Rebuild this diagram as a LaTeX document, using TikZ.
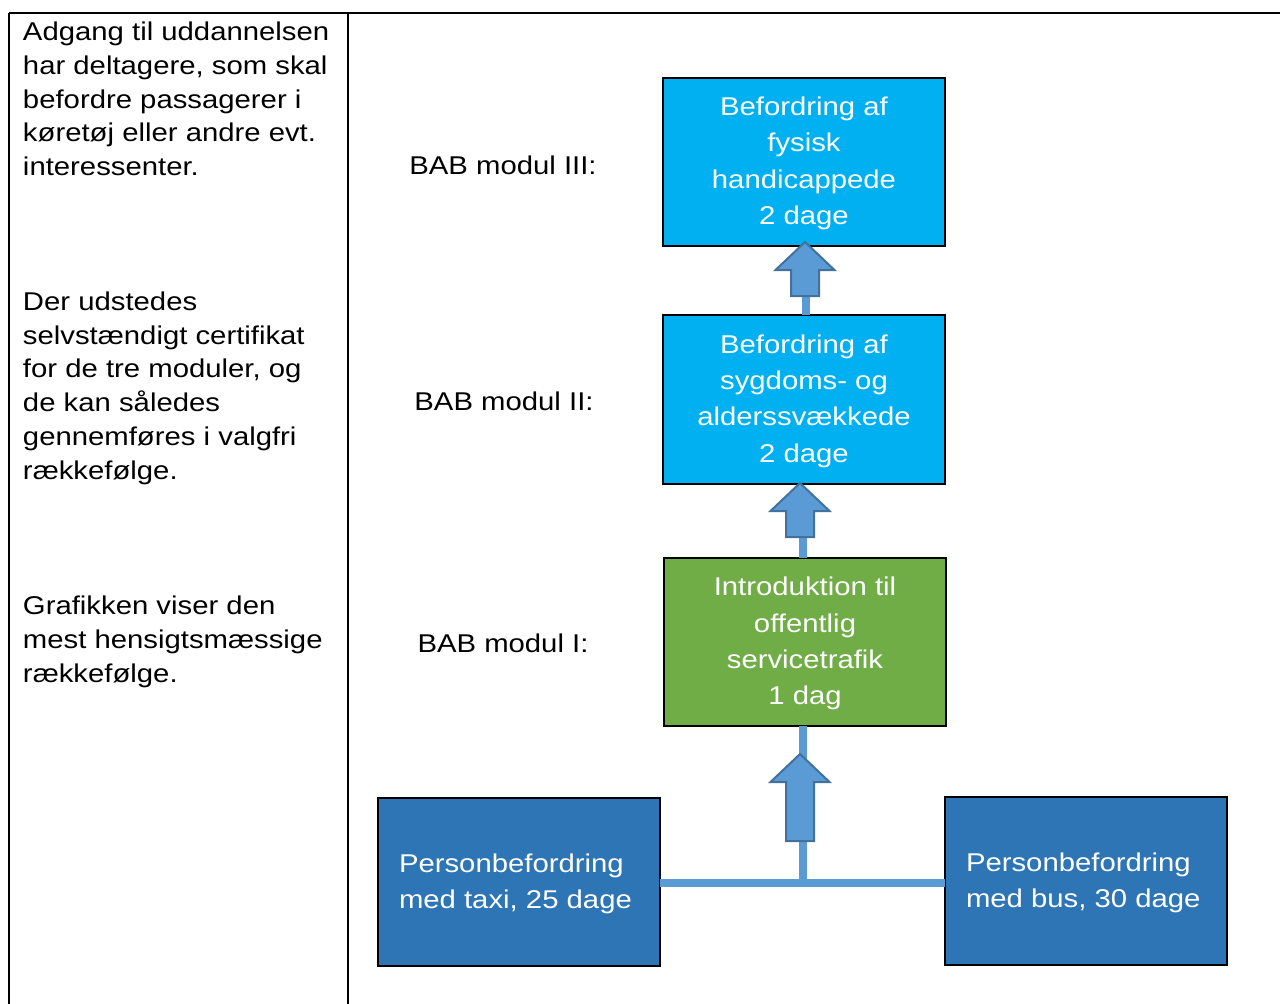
\documentclass[tikz,border=0pt]{standalone}
\usepackage{fontspec}
\setmainfont{Liberation Sans}[FakeStretch=1.14]
\begin{document}
\begin{tikzpicture}[x=1pt,y=-1pt,
  every node/.style={inner sep=0pt, outer sep=0pt},
  txt/.style={font=\fontsize{25.7}{33.7}\selectfont, align=left},
  boxtxt/.style={font=\fontsize{25.7}{36.3}\selectfont, text=white},
  modbox/.style={draw=black, line width=1.5pt, minimum width=282pt, minimum height=168pt},
  conn/.style={draw=arrowblue, line width=7.5pt},
  blk/.style={fill=arrowblue, draw=arrowedge, line width=2pt, line join=miter},
  tline/.style={draw=black, line width=2pt}]
\definecolor{cyanbox}{HTML}{00B0F0}
\definecolor{greenbox}{HTML}{70AD47}
\definecolor{darkbox}{HTML}{2E75B6}
\definecolor{arrowblue}{HTML}{5B9BD5}
\definecolor{arrowedge}{HTML}{41719C}
\useasboundingbox (0,0) rectangle (1280,1004);
% table lines
\coordinate (tl) at (9,13);
\coordinate (tm) at (348,13);
\coordinate (tr) at (1280,13);
\draw[tline] (tl) -- (tr);
\draw[tline] (tl) -- (9,1004);
\draw[tline] (tm) -- (348,1004);
% left column text (base anchor = last line baseline)
\node[txt, anchor=base west] (p1) at (23,175.6) {Adgang til uddannelsen\\har deltagere, som skal\\befordre passagerer i\\køretøj eller andre evt.\\interessenter.};
\node[txt, anchor=base west] (p2) at (23,479) {Der udstedes\\selvstændigt certifikat\\for de tre moduler, og\\de kan således\\gennemføres i valgfri\\rækkefølge.};
\node[txt, anchor=base west] (p3) at (23,682) {Grafikken viser den\\mest hensigtsmæssige\\rækkefølge.};
% labels
\node[txt, anchor=base] (l3) at (503,174) {BAB modul III:};
\node[txt, anchor=base] (l2) at (504,410) {BAB modul II:};
\node[txt, anchor=base] (l1) at (503,652) {BAB modul I:};
% connector points
\coordinate (a1b) at (806,296);
\coordinate (a2b) at (803,537);
\coordinate (j) at (803,883);
% boxes
\node[modbox, fill=cyanbox] (m3) at (804,162) {};
\node[modbox, fill=cyanbox, minimum height=169pt] (m2) at (804,399.5) {};
\node[modbox, fill=greenbox] (m1) at (805,642) {};
\node[modbox, fill=darkbox] (taxi) at (519,882) {};
\node[modbox, fill=darkbox] (bus) at (1086,881) {};
\draw[conn] (a1b) -- (a1b |- m2.north);
\draw[conn] (a2b) -- (a2b |- m1.north);
\draw[conn] (j |- m1.south) -- (j);
\draw[conn] (taxi.east |- j) -- (bus.west |- j);
% box texts
\node[boxtxt, align=center] (t3) at ([yshift=-1.5pt]m3) {Befordring af\\fysisk\\handicappede\\2 dage};
\node[boxtxt, align=center] (t2) at ([yshift=-1.5pt]m2) {Befordring af\\sygdoms- og\\alderssvækkede\\2 dage};
\node[boxtxt, align=center] (t1) at ([yshift=-1.5pt]m1) {Introduktion til\\offentlig\\servicetrafik\\1 dag};
\node[boxtxt, align=left, anchor=west] (tt) at ([xshift=21pt,yshift=-2pt]taxi.west) {Personbefordring\\med taxi, 25 dage};
\node[boxtxt, align=left, anchor=west] (tb) at ([xshift=21pt,yshift=-2pt]bus.west) {Personbefordring\\med bus, 30 dage};
% block arrows
\newcommand\blkarrow[3]{%
  \draw[blk] (#1,#2) -- (#1+29.5,#2+28) -- (#1+14,#2+28) -- (#1+14,#3) -- (#1-14,#3) -- (#1-14,#2+28) -- (#1-29.5,#2+28) -- cycle;}
\blkarrow{805}{242}{296}
\blkarrow{800}{483}{537}
\blkarrow{800}{754}{841}
\end{tikzpicture}
\end{document}
